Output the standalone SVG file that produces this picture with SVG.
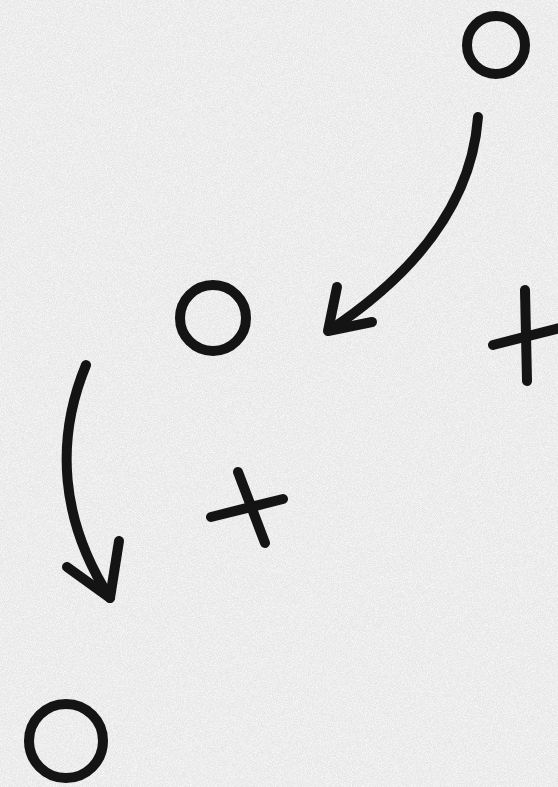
<svg xmlns="http://www.w3.org/2000/svg" width="558" height="787" viewBox="0 0 558 787">
  <defs>
    <filter id="grain" x="0" y="0" width="100%" height="100%">
      <feTurbulence type="fractalNoise" baseFrequency="1.2" numOctaves="2" seed="3" result="n"/>
      <feColorMatrix in="n" type="matrix" values="0 0 0 0 1  0 0 0 0 1  0 0 0 0 1  0 0 0 1.6 -0.55" result="w"/>
      <feComposite in="w" in2="SourceGraphic" operator="over"/>
    </filter>
    <style>
      .ink { fill: none; stroke: #141414; stroke-width: 10; stroke-linecap: round; stroke-linejoin: round; }
    </style>
  </defs>
  <rect x="0" y="0" width="558" height="787" fill="#e6e6e6" filter="url(#grain)"/>

  <g id="circle-top"><circle class="ink" cx="496" cy="45" r="29"/></g>
  <g id="circle-middle"><circle class="ink" cx="213" cy="318" r="33"/></g>
  <g id="circle-bottom"><circle class="ink" cx="66" cy="741" r="37"/></g>
  <g id="plus-right">
    <path class="ink" d="M525,290 L527,381"/>
    <path class="ink" d="M493,345 L560,328"/>
  </g>
  <g id="plus-middle">
    <path class="ink" d="M238,472 L265,543"/>
    <path class="ink" d="M211,517 L283,499"/>
  </g>

  <g id="connectors">
    <path class="ink" d="M478,117 C472,200 420,270 330,330"/>
    <path class="ink" d="M337,287 L328,331 L372,322"/>
    <path class="ink" d="M86,365 C55,440 60,520 110,598"/>
    <path class="ink" d="M119,541 L110,598 L67,567"/>
  </g>
</svg>
